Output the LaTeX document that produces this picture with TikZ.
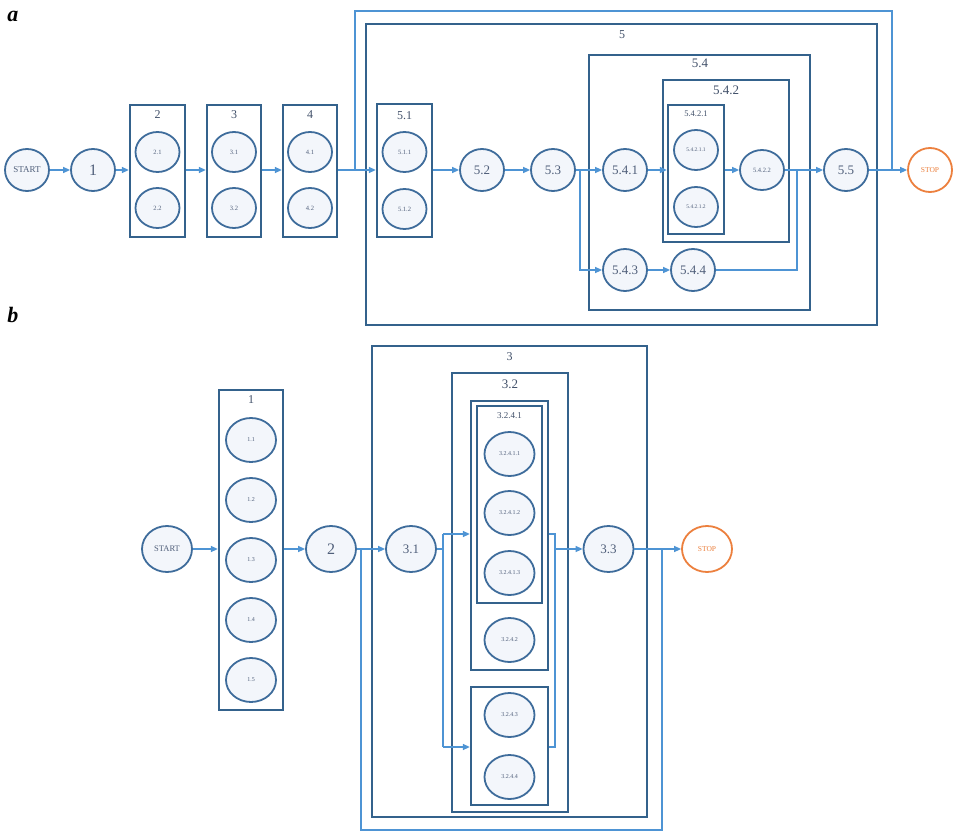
\documentclass[tikz,border=0pt]{standalone}
\usepackage{fontspec}
\setmainfont{Liberation Serif}
\usetikzlibrary{arrows.meta,shapes.geometric}
\definecolor{cdark}{RGB}{62,108,155}
\definecolor{cbox}{RGB}{52,98,140}
\definecolor{cline}{RGB}{78,148,212}
\definecolor{ctext}{RGB}{80,95,122}
\definecolor{clab}{RGB}{65,80,105}
\definecolor{cfill}{RGB}{243,246,251}
\definecolor{corange}{RGB}{236,128,62}
\begin{document}
\begin{tikzpicture}[x=1pt,y=-1pt,
  nd/.style={ellipse, draw=cdark, line width=1.8pt, fill=cfill, inner sep=0pt, text=ctext,
    minimum width=44pt, minimum height=42pt, font=\fontsize{16}{16}\selectfont},
  sm/.style={nd, minimum width=44pt, minimum height=40pt, font=\fontsize{6.5}{6.5}\selectfont},
  bnd/.style={nd, minimum width=50pt, minimum height=46pt},
  bsm/.style={nd, minimum width=50pt, minimum height=44pt, font=\fontsize{6}{6}\selectfont},
  stopnd/.style={nd, draw=corange, text=corange, fill=white, font=\fontsize{7.5}{7.5}\selectfont},
  bx/.style={rectangle, draw=cbox, line width=2.3pt, inner sep=0pt},
  blab/.style={text=clab, inner sep=0pt, font=\fontsize{12}{12}\selectfont},
  ln/.style={draw=cline, line width=1.5pt},
  ar/.style={ln, -{Triangle[length=7pt,width=6pt]}},
  plab/.style={anchor=base, inner sep=0pt, font=\fontsize{22}{22}\selectfont\bfseries\itshape}
]
\useasboundingbox (0,0) rectangle (954,832);

% ---------------- part a ----------------
\node[plab] (la) at (13,22) {a};

\node[bx, minimum width=55pt, minimum height=132pt] (aB2) at (157.5,171) {};
\node[bx, minimum width=54pt, minimum height=132pt] (aB3) at (234,171) {};
\node[bx, minimum width=54pt, minimum height=132pt] (aB4) at (310,171) {};
\node[bx, minimum width=511pt, minimum height=301pt] (aB5) at (621.5,174.5) {};
\node[bx, minimum width=55pt, minimum height=133pt] (aB51) at (404.5,170.5) {};
\node[bx, minimum width=221pt, minimum height=255pt] (aB54) at (699.5,182.5) {};
\node[bx, minimum width=126pt, minimum height=162pt] (aB542) at (726,161) {};
\node[bx, minimum width=56pt, minimum height=129pt] (aB5421) at (696,169.5) {};

\node[blab] (aL2) at (157.5,115) {2};
\node[blab] (aL3) at (234,115) {3};
\node[blab] (aL4) at (310,115) {4};
\node[blab] (aL5) at (622,35) {5};
\node[blab] (aL51) at (404.5,116) {5.1};
\node[blab, font=\fontsize{13}{13}\selectfont] (aL54) at (700,63) {5.4};
\node[blab, font=\fontsize{13}{13}\selectfont] (aL542) at (726,90) {5.4.2};
\node[blab, font=\fontsize{8.5}{8.5}\selectfont] (aL5421) at (696,114) {5.4.2.1};

\node[nd, font=\fontsize{9}{9}\selectfont] (aS) at (27,170) {START};
\node[nd] (a1) at (93,170) {1};
\node[sm] (a21) at (157.5,152) {2.1};
\node[sm] (a22) at (157.5,208) {2.2};
\node[sm] (a31) at (234,152) {3.1};
\node[sm] (a32) at (234,208) {3.2};
\node[sm] (a41) at (310,152) {4.1};
\node[sm] (a42) at (310,208) {4.2};
\node[sm] (a511) at (404.5,152) {5.1.1};
\node[sm] (a512) at (404.5,209) {5.1.2};
\node[nd, font=\fontsize{13}{13}\selectfont] (a52) at (482,170) {5.2};
\node[nd, font=\fontsize{13}{13}\selectfont] (a53) at (553,170) {5.3};
\node[nd, font=\fontsize{13}{13}\selectfont] (a541) at (625,170) {5.4.1};
\node[sm, font=\fontsize{5.5}{5.5}\selectfont] (a54211) at (696,150) {5.4.2.1.1};
\node[sm, font=\fontsize{5.5}{5.5}\selectfont] (a54212) at (696,207) {5.4.2.1.2};
\node[sm] (a5422) at (762,170) {5.4.2.2};
\node[nd, font=\fontsize{13}{13}\selectfont] (a543) at (625,270) {5.4.3};
\node[nd, font=\fontsize{13}{13}\selectfont] (a544) at (693,270) {5.4.4};
\node[nd, font=\fontsize{13}{13}\selectfont] (a55) at (846,170) {5.5};
\node[stopnd, minimum width=44pt, minimum height=44pt] (aE) at (930,170) {STOP};

\draw[ar] (aS) -- (a1);
\draw[ar] (a1) -- (a1 -| aB2.west);
\draw[ar] (a1 -| aB2.east) -- (a1 -| aB3.west);
\draw[ar] (a1 -| aB3.east) -- (a1 -| aB4.west);
\draw[ar] (a1 -| aB4.east) -- (a1 -| aB51.west);
\coordinate (aj1) at (355,170);
\coordinate (aj2) at (892,170);
\coordinate (atop) at (892,11);
\draw[ln] (aj1) |- (atop) -- (aj2);
\draw[ar] (a1 -| aB51.east) -- (a52);
\draw[ar] (a52) -- (a53);
\draw[ar] (a53) -- (a541);
\coordinate (aj3) at (580,170);
\draw[ar] (aj3) |- (a543);
\draw[ar] (a541) -- (a541 -| aB5421.west);
\draw[ar] (a541 -| aB5421.east) -- (a5422);
\draw[ar] (a5422) -- (a55);
\draw[ar] (a543) -- (a544);
\coordinate (aj4) at (797,170);
\draw[ln] (a544) -| (aj4);
\draw[ar] (a55) -- (aE);

% ---------------- part b ----------------
\node[plab] (lb) at (13,322) {b};

\node[bx, minimum width=64pt, minimum height=320pt] (bB1) at (251,550) {};
\node[bx, minimum width=275pt, minimum height=471pt] (bB3) at (509.5,581.5) {};
\node[bx, minimum width=116pt, minimum height=439pt] (bB32) at (510,592.5) {};
\node[bx, minimum width=77pt, minimum height=269pt] (bB324) at (509.5,535.5) {};
\node[bx, minimum width=65pt, minimum height=197pt] (bB3241) at (509.5,504.5) {};
\node[bx, minimum width=77pt, minimum height=118pt] (bBlow) at (509.5,746) {};

\node[blab] (bL1) at (251,400) {1};
\node[blab] (bL3) at (509.5,357) {3};
\node[blab, font=\fontsize{13}{13}\selectfont] (bL32) at (510,384) {3.2};
\node[blab, font=\fontsize{9}{9}\selectfont] (bL3241) at (509.5,416) {3.2.4.1};

\node[bnd, font=\fontsize{8.5}{8.5}\selectfont] (bS) at (167,549) {START};
\node[bsm] (b11) at (251,440) {1.1};
\node[bsm] (b12) at (251,500) {1.2};
\node[bsm] (b13) at (251,560) {1.3};
\node[bsm] (b14) at (251,620) {1.4};
\node[bsm] (b15) at (251,680) {1.5};
\node[bnd, font=\fontsize{16}{16}\selectfont] (b2) at (331,549) {2};
\node[bnd, font=\fontsize{13}{13}\selectfont] (b31) at (411,549) {3.1};
\node[bsm] (b32411) at (509.5,454) {3.2.4.1.1};
\node[bsm] (b32412) at (509.5,513) {3.2.4.1.2};
\node[bsm] (b32413) at (509.5,573) {3.2.4.1.3};
\node[bsm] (b3242) at (509.5,640) {3.2.4.2};
\node[bsm] (b3243) at (509.5,715) {3.2.4.3};
\node[bsm] (b3244) at (509.5,777) {3.2.4.4};
\node[bnd, font=\fontsize{13}{13}\selectfont] (b33) at (608.5,549) {3.3};
\node[stopnd, minimum width=50pt, minimum height=46pt] (bE) at (707,549) {STOP};

\draw[ar] (bS) -- (bS -| bB1.west);
\draw[ar] (bS -| bB1.east) -- (b2);
\draw[ar] (b2) -- (b31);
\coordinate (bj1) at (361,549);
\coordinate (bj2) at (662,549);
\coordinate (bbot) at (361,830);
\draw[ln] (bj1) -- (bbot) -| (bj2);
\coordinate (bj3) at (443,549);
\coordinate (bt1) at (443,534);
\coordinate (bt2) at (443,747);
\draw[ln] (b31) -- (bj3);
\draw[ln] (bt1) -- (bt2);
\draw[ar] (bt1) -- (bt1 -| bB324.west);
\draw[ar] (bt2) -- (bt2 -| bBlow.west);
\coordinate (bm1) at (555,534);
\coordinate (bm2) at (555,747);
\coordinate (bj4) at (555,549);
\draw[ln] (bm1 -| bB324.east) -- (bm1) -- (bm2) -- (bm2 -| bBlow.east);
\draw[ar] (bj4) -- (b33);
\draw[ar] (b33) -- (bE);
\end{tikzpicture}
\end{document}
